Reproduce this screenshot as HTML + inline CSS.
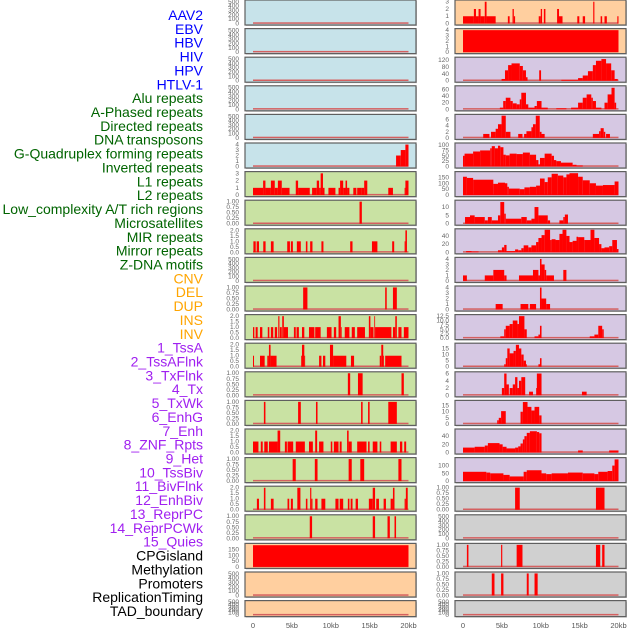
<!DOCTYPE html>
<html><head><meta charset="utf-8"><style>
html,body{margin:0;padding:0;background:#fff;}
svg{display:block;font-family:"Liberation Sans",sans-serif;}
</style></head><body>
<svg id="chart" width="630" height="630" xmlns="http://www.w3.org/2000/svg"></svg>
<script>
const labels = ["AAV2","EBV","HBV","HIV","HPV","HTLV-1","Alu repeats","A-Phased repeats","Directed repeats","DNA transposons","G-Quadruplex forming repeats","Inverted repeats","L1 repeats","L2 repeats","Low_complexity A/T rich regions","Microsatellites","MIR repeats","Mirror repeats","Z-DNA motifs","CNV","DEL","DUP","INS","INV","1_TssA","2_TssAFlnk","3_TxFlnk","4_Tx","5_TxWk","6_EnhG","7_Enh","8_ZNF_Rpts","9_Het","10_TssBiv","11_BivFlnk","12_EnhBiv","13_ReprPC","14_ReprPCWk","15_Quies","CPGisland","Methylation","Promoters","ReplicationTiming","TAD_boundary"];
const groups = ["v","v","v","v","v","v","r","r","r","r","r","r","r","r","r","r","r","r","r","s","s","s","s","s","c","c","c","c","c","c","c","c","c","c","c","c","c","c","c","o","o","o","o","o"];
const yMax = [520,520,520,520,520,4.1,3.1,1.02,2.05,520,1.02,2.05,2.05,1.02,1.02,2.05,1.02,2.05,1.02,195,520,520,
              3.1,4.1,130,68,7.4,105,190,13.5,55,4.1,4.1,12.8,18.5,6.2,18.5,55,145,1.02,520,1.02,1.02,520];
const tickSets = {
  t500:[0,100,200,300,400,500], t4:[0,1,2,3,4], t3:[0,1,2,3], t1:[0,0.25,0.5,0.75,1], t2:[0,0.5,1,1.5,2],
  t150:[0,50,100,150], t120:[0,40,80,120], t60:[0,20,40,60], t6:[0,2,4,6], t100:[0,25,50,75,100],
  t10:[0,5,10], t40:[0,20,40], t125:[0,2.5,5,7.5,10,12.5], t15:[0,5,10,15], t100b:[0,50,100]
};
const tickKey = ["t500","t500","t500","t500","t500","t4","t3","t1","t2","t500","t1","t2","t2","t1","t1","t2","t1","t2","t1","t150","t500","t500",
                 "t3","t4","t120","t60","t6","t100","t150","t10","t40","t4","t4","t125","t15","t6","t15","t40","t100b","t1","t500","t1","t1","t500"];
const xTicks = [0,5,10,15,20];
const xTickLabels = ["0","5kb","10kb","15kb","20kb"];
// segments: [startKb, endKb, value]
const segs = [
 [],[],[],[],[],
 [[18.4,19.0,2],[19.0,19.6,3],[19.6,20,4]],
 [[0,1.3,1],[1.3,1.6,2],[1.6,2.3,1],[2.3,2.8,2],[2.8,3.2,1],[3.2,3.7,2],[3.7,4.7,1],[5.5,5.8,2],[5.8,7.3,1],[7.6,8.2,1],[8.2,8.5,2],[8.5,8.7,1],[8.7,9.0,3],[9.0,9.2,1],[9.7,10.6,1],[11.0,11.2,1],[11.2,11.6,2],[11.6,11.9,1],[11.9,12.1,2],[12.1,12.4,1],[12.9,13.3,1],[13.4,14.0,1],[14.0,14.3,1],[14.3,14.7,2],[17.4,18.0,1],[19.5,19.6,1],[19.6,20.0,2]],
 [[13.7,14.0,1]],
 [[0.05,0.35,1],[0.47,0.77,1],[1.32,1.62,1],[2.3,2.65,1],[4.4,4.75,1],[4.87,5.13,1],[5.64,6.15,1],[6.8,7.0,1],[7.35,7.65,1],[8.8,9.06,1],[12.5,12.8,1],[15.3,16.0,1],[17.9,18.16,1],[19.5,19.6,1],[19.6,19.8,2]],
 [],
 [[6.45,7.0,1],[17.0,17.2,1],[18.0,18.5,1]],
 [[0,0.17,1],[0.34,0.6,1],[0.9,1.2,1],[1.9,2.1,1],[2.3,2.6,1],[2.8,3.1,1],[3.25,3.4,2],[3.46,3.7,1],[3.76,3.97,2],[3.97,4.5,1],[5.26,5.5,1],[5.6,5.9,1],[6.3,6.6,1],[7.2,7.9,1],[8.0,8.7,1],[9.5,10.1,1],[10.4,10.7,1],[11.0,11.3,2],[11.3,11.4,1],[11.8,12.4,1],[12.7,13.1,1],[13.4,14.4,1],[14.9,15.1,2],[15.1,15.5,1],[15.6,15.7,2],[15.7,17.8,1],[18.0,18.3,1],[18.3,18.5,2],[18.7,19.1,1],[19.4,20.0,1]],
 [[0,0.13,1],[0.9,1.5,1],[1.84,2.05,1],[2.05,2.26,2],[2.26,3.03,1],[6.2,6.3,1],[6.3,6.6,2],[6.6,6.67,1],[8.5,8.8,1],[9.0,9.3,1],[9.9,10.3,2],[10.3,12.0,1],[12.6,13.0,1],[16.3,16.5,1],[16.5,16.75,2],[16.75,16.8,1],[17.0,19.1,1]],
 [[12.2,12.5,1],[13.5,14.1,1],[19.1,19.4,1]],
 [[1.4,1.6,1],[5.8,6.15,1],[8.1,8.3,1],[13.9,14.1,1],[14.8,15.0,1],[17.4,18.5,1]],
 [[0,0.7,1],[1.0,1.25,1],[1.45,1.9,1],[2.05,3.16,1],[3.16,3.5,2],[4.1,4.36,1],[4.44,5.17,1],[5.5,6.67,1],[7.2,7.7,1],[8.0,8.25,2],[8.5,9.06,1],[10.0,10.2,1],[10.4,11.0,1],[11.15,11.4,1],[12.1,12.3,2],[12.3,12.7,1],[13.4,14.6,1],[14.8,15.0,1],[15.4,16.0,1],[16.3,16.5,1],[17.7,18.5,1],[18.9,19.2,1],[19.45,19.7,1]],
 [[5.1,5.5,1],[7.95,8.3,1],[12.3,12.7,1],[13.8,14.3,1],[18.7,19.1,1]],
 [[0.5,0.77,1],[1.4,1.6,2],[2.3,2.65,1],[4.44,4.66,1],[4.87,5.13,1],[5.7,6.1,2],[6.8,7.0,1],[7.35,7.5,2],[7.5,7.65,1],[8.0,8.3,1],[8.8,9.3,1],[10.6,11.0,1],[11.15,11.6,1],[12.2,12.4,1],[12.56,12.8,1],[13.2,13.5,1],[14.9,15.4,1],[15.4,15.7,2],[15.85,16.2,1],[16.8,17.1,1],[17.7,18.0,1],[18.0,18.2,2],[19.5,19.66,1],[19.66,19.9,2]],
 [[7.3,7.6,1],[15.4,15.7,1],[17.3,17.6,1],[18.2,18.4,1]],
 [[0,20,188]],
 [],[],
 [[0,1.4,1],[1.4,1.67,2],[1.67,2.0,1],[2.0,2.26,2],[2.26,2.8,1],[2.8,3.03,3],[3.03,4.2,1],[5.77,6.0,1],[6.37,6.54,2],[6.54,6.7,1],[9.74,10.0,1],[10.0,10.17,2],[10.4,10.6,2],[12.1,12.35,2],[12.35,12.8,1],[14.7,14.96,1],[15.4,15.7,1],[16.75,16.9,3],[17.7,17.9,1],[18.2,18.5,1],[19.85,20.0,1]],
 [[0,20,4]],
 [[4.96,5.4,10],[5.4,5.8,60],[5.8,6.24,90],[6.24,7.3,100],[7.3,7.7,85],[7.7,8.1,60],[8.1,8.3,20],[9.8,10.04,60],[12.65,14.8,5],[14.8,15.4,15],[15.4,16.07,30],[16.07,16.7,55],[16.7,17.1,90],[17.1,17.8,115],[17.8,18.4,125],[18.4,19.06,100],[19.06,19.5,60],[19.5,19.9,10]],
 [[4.74,5.17,5],[5.17,5.5,25],[5.5,6.1,35],[6.1,6.4,25],[6.4,6.9,18],[6.9,7.3,15],[7.3,7.5,30],[7.5,8.1,50],[8.1,8.4,15],[8.4,9.2,5],[9.2,9.5,10],[9.5,10.1,25],[10.1,10.9,5],[12.0,13.3,3],[13.9,14.8,5],[14.8,15.4,20],[15.4,15.9,35],[15.9,16.5,45],[16.5,16.7,35],[16.7,17.1,25],[17.1,17.8,5],[18.2,18.6,20],[18.6,19.1,45],[19.1,19.5,65],[19.5,19.7,20]],
 [[2.6,3.4,1.3],[3.6,4.2,2],[4.2,4.5,3],[4.5,4.96,4.5],[4.96,5.5,7.3],[5.5,6.1,2],[7.1,7.65,1.3],[7.86,8.16,1.3],[8.16,8.8,2.2],[8.8,9.0,3.5],[9.0,9.36,4.5],[9.36,9.87,7.3],[9.87,10.1,2],[10.1,10.5,1.3],[16.7,17.5,1.3],[17.5,17.7,2.2],[17.7,18.1,3.2],[18.1,18.3,2],[18.4,18.9,1.3]],
 [[0,0.2,50],[0.2,1.3,60],[1.3,2.2,70],[2.2,3.5,75],[3.5,3.7,85],[3.7,4.1,95],[4.1,4.5,85],[4.5,4.8,97],[4.8,5.2,90],[5.2,5.5,55],[5.5,6.0,52],[6.0,6.9,60],[6.9,7.7,58],[7.7,8.6,65],[8.6,9.4,55],[9.4,9.7,30],[9.7,9.9,10],[9.9,10.5,40],[10.5,11.4,60],[11.4,11.7,50],[11.7,12.0,30],[12.0,12.6,25],[12.6,14.1,18],[14.1,14.6,8],[14.6,15.4,5]],
 [[0,0.5,155],[0.5,1.3,145],[1.3,3.9,130],[3.9,4.5,95],[4.5,5.4,105],[5.4,5.7,100],[5.7,5.9,70],[5.9,7.3,55],[7.3,7.9,50],[7.9,8.6,65],[8.6,9.4,70],[9.4,9.9,80],[9.9,10.5,140],[10.5,10.9,110],[10.9,11.4,150],[11.4,12.2,180],[12.2,12.9,165],[12.9,13.3,150],[13.3,13.7,175],[13.7,14.8,185],[14.8,15.4,155],[15.4,16.3,125],[16.3,17.1,100],[17.1,18.0,80],[18.0,19.5,85],[19.5,20.0,115]],
 [[0.26,0.9,4],[0.9,1.5,5],[1.5,2.8,4],[2.8,3.2,2],[3.2,3.7,4],[3.7,4.5,2],[4.5,4.8,5],[4.8,5.3,13],[5.3,5.5,6],[5.5,7.5,3],[7.5,8.2,4],[8.2,8.8,2],[8.8,9.2,3],[9.2,9.7,10],[9.7,10.9,5],[10.9,11.2,2],[12.4,12.9,2],[12.9,13.1,4],[13.1,13.5,5.5]],
 [[0.4,1.1,3],[1.1,2.0,2],[4.5,5.0,5],[5.0,5.3,12],[5.3,5.6,18],[5.6,6.7,3],[6.7,7.1,7],[7.1,7.5,5],[7.5,7.8,10],[7.8,8.4,17],[8.4,8.8,12],[8.8,9.4,17],[9.4,9.7,25],[9.7,10.1,35],[10.1,10.5,42],[10.5,11.2,55],[11.2,11.4,30],[11.4,11.9,32],[11.9,12.4,30],[12.4,12.8,45],[12.8,13.3,55],[13.3,13.7,40],[13.7,14.1,25],[14.1,14.6,28],[14.6,14.8,38],[14.8,15.6,37],[15.6,16.4,30],[16.4,16.9,55],[16.9,17.5,35],[17.5,17.8,20],[17.8,18.2,10],[18.2,18.8,12],[18.8,19.2,15],[19.2,19.8,30],[19.8,20,8]],
 [[0,0.5,1],[2.8,3.9,1],[3.9,5.3,2],[5.3,5.6,1],[7.2,9.0,1],[9.0,9.7,2],[9.7,9.9,1],[9.9,10.1,4],[10.1,10.5,3],[10.5,10.7,2],[10.7,11.7,1],[12.9,13.3,2]],
 [[4.2,5.1,1],[7.4,8.4,1],[8.6,9.4,1],[9.9,10.1,4],[10.1,10.7,2],[10.7,11.2,1]],
 [[4.8,5.3,1],[5.3,5.5,5],[5.5,6.0,7],[6.0,6.4,8],[6.4,7.0,10],[7.0,7.2,8],[7.2,7.9,12.5],[7.9,8.2,5],[9.2,9.7,1],[9.7,9.9,2],[9.9,10.1,7],[16.3,16.9,1],[16.9,17.4,2],[17.4,17.9,7],[17.9,18.1,5]],
 [[5.3,5.5,2],[5.5,5.7,7],[5.7,6.0,15],[6.0,6.5,11],[6.5,6.8,13],[6.8,7.2,18],[7.2,7.5,15],[7.5,7.8,10],[7.8,8.1,5],[8.1,8.2,2],[9.7,9.9,2],[9.9,10.1,7]],
 [[5.0,5.3,2],[5.3,5.6,6],[5.6,5.9,3],[6.0,6.4,2],[6.4,6.7,3],[6.7,7.0,5],[7.0,7.2,2],[7.2,7.5,4],[7.5,8.0,5],[8.5,9.0,1],[9.4,9.5,2],[9.5,10.1,6],[15.3,15.9,1]],
 [[4.4,4.6,3],[4.6,4.9,5],[4.9,5.5,10.5],[7.4,7.7,10],[7.7,8.3,18],[8.3,8.8,14],[8.8,9.2,11],[9.2,9.8,14],[9.8,10.1,7]],
 [[0,1.5,12],[1.5,2.8,14],[2.8,3.2,17],[3.2,4.7,23],[4.7,5.1,20],[5.1,5.6,14],[5.6,6.7,10],[6.7,7.1,12],[7.1,7.4,15],[7.4,7.7,22],[7.7,7.9,32],[7.9,8.2,40],[8.2,8.6,48],[8.6,9.5,52],[9.5,9.8,50],[9.8,10.1,47],[14.8,15.4,5],[18.8,20,5]],
 [[0,3.0,60],[3.0,3.5,55],[3.5,5.2,50],[5.2,6.0,40],[6.0,7.8,30],[7.8,8.2,60],[8.2,10.1,70],[10.1,10.7,50],[10.7,11.4,45],[11.4,13.5,50],[13.5,15.4,55],[15.4,16.9,50],[16.9,17.4,45],[17.4,18.6,60],[18.6,19.2,65],[19.2,19.5,100],[19.5,20,140]],
 [[6.7,7.3,1],[17.1,18.2,1]],
 [],
 [[0.5,0.7,1],[4.9,5.05,1],[6.9,7.65,1],[17.1,17.65,1],[17.9,18.2,1]],
 [[3.7,4.05,1],[4.9,5.2,1],[8.2,8.45,1],[9.2,9.6,1]],
 []
];

const NS = "http://www.w3.org/2000/svg";
const svg = document.getElementById("chart");
function mk(tag, attrs, parent){ const e=document.createElementNS(NS,tag); for(const k in attrs) e.setAttribute(k,attrs[k]); (parent||svg).appendChild(e); return e; }
const bgColors = {v:"#c7e3ea", r:"#c9e2a3", s:"#ffcf9f", c:"#d6c8e3", o:"#d0d0d0"};
const labelColors = {v:"#0000ff", r:"#006400", s:"#ffa500", c:"#a020f0", o:"#000000"};
function fmtTick(t, key){
  if(key==="t1") return t.toFixed(2);
  if(key==="t2"||key==="t125") return t.toFixed(1);
  return String(t);
}
// labels
labels.forEach((lab,i)=>{
  const t = mk("text",{x:203,y:15+i*13.86+5,"text-anchor":"end","font-size":"14",fill:labelColors[groups[i]]});
  
  
  t.textContent = lab;
});
// panels
for(let i=0;i<44;i++){
  const col = i<22?0:1, row=i%22;
  const px = col===0?245:455, pw=171;
  const py = row*28.6, ph = row===21?16:25;
  const x0 = px+8, x1 = px+163.5;
  const xs = kb=>x0+(kb/20)*(x1-x0);
  const yb = py+ph-1.5, yt = py+1;
  const ys = v=>yb-(v/yMax[i])*(yb-yt);
  const g = mk("g",{});
  
  
  mk("rect",{x:px+1,y:py+1,width:pw,height:ph,fill:"#c8c8c8"},g);
  mk("rect",{x:px,y:py,width:pw,height:ph,fill:bgColors[groups[i]],stroke:"#5f5f5f","stroke-width":"1.2"},g);
  // ticks
  tickSets[tickKey[i]].forEach(t=>{
    const tt = mk("text",{x:px-6,y:ys(t)+2,"text-anchor":"end","font-size":"6.5",fill:"#666"},g);
    
    
    tt.textContent = fmtTick(t, tickKey[i]);
  });
  // baseline
  mk("rect",{x:xs(0),y:yb-1.2,width:xs(20)-xs(0),height:1.5,fill:"#d46060"},g);
  segs[i].forEach(s=>{
    const a=Math.max(0,s[0]), b=Math.min(20,s[1]);
    const r = mk("rect",{x:xs(a),y:ys(s[2]),width:Math.max(0.8,xs(b)-xs(a)),height:yb-ys(s[2]),fill:"#ff0000"},g);
    
    
  });
}
// x axes
[0,1].forEach(col=>{
  const x0 = col===0?253:463, x1 = x0+155.5;
  xTicks.forEach((kb,j)=>{
    const t = mk("text",{x:x0+(kb/20)*(x1-x0),y:628,"text-anchor":"middle","font-size":"7.5",fill:"#555"});
    
    
    t.textContent = xTickLabels[j];
  });
});
</script>
</body></html>
